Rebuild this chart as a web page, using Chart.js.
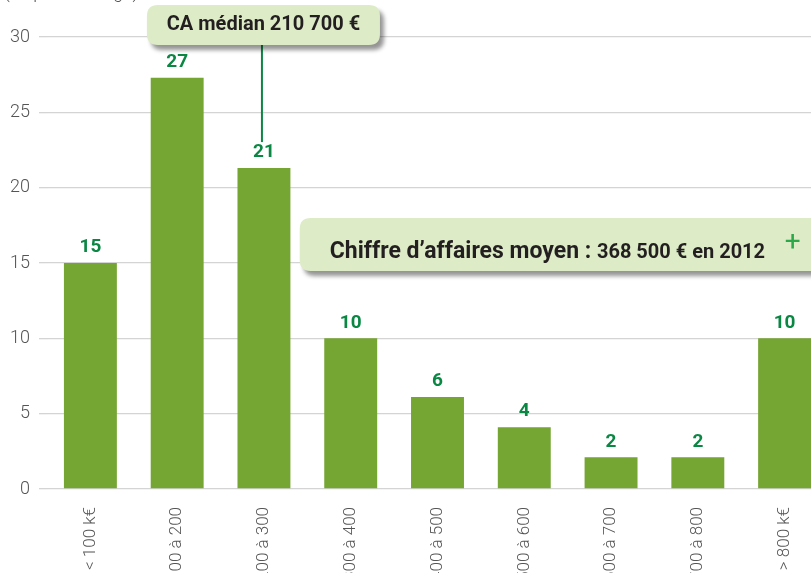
<!DOCTYPE html>
<html lang="fr">
<head>
<meta charset="utf-8">
<title>Chiffre d'affaires</title>
<script src="https://cdn.jsdelivr.net/npm/chart.js@4.4.1/dist/chart.umd.min.js"></script>
<style>
  html, body { margin: 0; padding: 0; background: #fff; overflow: hidden; width: 811px; height: 573px; }
  #wrap { position: absolute; left: 0; top: -20px; width: 828px; height: 620px; }
</style>
</head>
<body>
<div id="wrap"><canvas id="caChart"></canvas></div>
<script>
// data (share of firms, %)
const categories = ['< 100 k€', '100 à 200', '200 à 300', '300 à 400', '400 à 500', '500 à 600', '600 à 700', '700 à 800', '> 800 k€'];
const shares = [15, 27.3, 21.3, 10, 6.1, 4.1, 2.1, 2.1, 10];
const yMin = 0;
const yMax = 30;
const yStep = 5;
const unitLabel = '(en pourcentage)';
const medianText = 'CA médian 210 700 €';
const medianIndex = 2;
const meanLead = 'Chiffre d’affaires moyen :';
const meanValue = '368 500 € en 2012';

const barGreen = '#75a532';
const labelGreen = '#0b8744';
const boxFill = '#ddecc7';
const boldFont = '"Roboto", sans-serif';
const lightFont = '"Roboto", sans-serif';

function roundRect(ctx, x, y, w, h, r) {
    ctx.beginPath();
    ctx.moveTo(x + r, y);
    ctx.lineTo(x + w - r, y);
    ctx.quadraticCurveTo(x + w, y, x + w, y + r);
    ctx.lineTo(x + w, y + h - r);
    ctx.quadraticCurveTo(x + w, y + h, x + w - r, y + h);
    ctx.lineTo(x + r, y + h);
    ctx.quadraticCurveTo(x, y + h, x, y + h - r);
    ctx.lineTo(x, y + r);
    ctx.quadraticCurveTo(x, y, x + r, y);
    ctx.closePath();
}

function shadowBox(ctx, x, y, w, h) {
    ctx.save();
    ctx.shadowColor = 'rgba(0,0,0,0.42)';
    ctx.shadowOffsetX = 4;
    ctx.shadowOffsetY = 5;
    ctx.shadowBlur = 4;
    roundRect(ctx, x, y, w, h, 11);
    ctx.fillStyle = boxFill;
    ctx.fill();
    ctx.restore();
}

// numbers above the bars
const valueLabels = {
    id: 'valueLabels',
    afterDatasetsDraw(chart) {
        const ctx = chart.ctx;
        const meta = chart.getDatasetMeta(0);
        ctx.save();
        ctx.font = 'bold 19px ' + boldFont;
        ctx.fillStyle = labelGreen;
        ctx.textAlign = 'center';
        ctx.textBaseline = 'bottom';
        meta.data.forEach((bar, i) => {
            ctx.fillText(Math.round(shares[i]), bar.x, bar.y - 6);
        });
        ctx.restore();
    }
};

// unit text + the two callout boxes
const callouts = {
    id: 'callouts',
    afterDraw(chart) {
        const ctx = chart.ctx;
        const xs = chart.scales.x;
        const ys = chart.scales.y;
        const bar = chart.getDatasetMeta(0).data[medianIndex];

        ctx.save();
        ctx.font = '300 18px ' + lightFont;
        ctx.fillStyle = '#555';
        ctx.textBaseline = 'middle';
        ctx.fillText(unitLabel, 4, 13);

        // median
        const mx = xs.getPixelForValue(medianIndex) - 2;
        ctx.strokeStyle = labelGreen;
        ctx.lineWidth = 2;
        ctx.beginPath();
        ctx.moveTo(mx, ys.top);
        ctx.lineTo(mx, bar.y - 26);
        ctx.stroke();

        const mw = 233, mh = 40;
        const mTop = ys.top - 32;
        shadowBox(ctx, mx + 1.5 - mw / 2, mTop, mw, mh);
        ctx.fillStyle = '#231f20';
        ctx.font = 'bold 20px ' + boldFont;
        ctx.textAlign = 'center';
        ctx.textBaseline = 'middle';
        ctx.fillText(medianText, mx + 1.5, mTop + mh / 2);

        // mean
        const bx = xs.getPixelForValue(3) - 51;
        const bTop = ys.getPixelForValue(15) - 45;
        const bh = 53;
        shadowBox(ctx, bx, bTop, chart.width - bx + 20, bh);
        ctx.textAlign = 'left';
        ctx.textBaseline = 'alphabetic';
        ctx.fillStyle = '#231f20';
        ctx.font = 'bold 23px ' + boldFont;
        const tx = bx + 30;
        const ty = bTop + 40;
        ctx.fillText(meanLead, tx, ty);
        const w1 = ctx.measureText(meanLead + ' ').width;
        ctx.font = 'bold 20px ' + boldFont;
        ctx.fillText(meanValue, tx + w1, ty);

        ctx.fillStyle = '#2aa84a';
        ctx.font = '28px ' + lightFont;
        ctx.textAlign = 'center';
        ctx.textBaseline = 'middle';
        ctx.fillText('+', bx + 493, bTop + 25);
        ctx.restore();
    }
};

const ctx = document.getElementById('caChart').getContext('2d');
const chart = new Chart(ctx, {
    type: 'bar',
    data: {
        labels: categories,
        datasets: [{
            data: shares,
            backgroundColor: barGreen,
            borderWidth: 0,
            categoryPercentage: 1,
            barPercentage: 0.61
        }]
    },
    options: {
        responsive: true,
        maintainAspectRatio: false,
        animation: false,
        layout: { padding: { top: 57, right: 0, left: 0, bottom: 0 } },
        plugins: {
            legend: { display: false },
            tooltip: { enabled: false },
            title: { display: false }
        },
        scales: {
            x: {
                grid: { display: false },
                border: { display: false },
                ticks: {
                    autoSkip: false,
                    maxRotation: 90,
                    minRotation: 90,
                    padding: 10,
                    color: '#555',
                    font: { family: lightFont, size: 17, weight: '300' }
                },
                afterFit(scale) { scale.height = 111; }
            },
            y: {
                min: yMin,
                max: yMax,
                grid: { color: '#d4d4d4', lineWidth: 1.3, tickLength: 8 },
                border: { display: false },
                ticks: {
                    stepSize: yStep,
                    padding: 9,
                    color: '#555',
                    font: { family: lightFont, size: 18, weight: '300' }
                },
                afterFit(scale) { scale.width = 47; }
            }
        }
    },
    plugins: [valueLabels, callouts]
});
</script>
</body>
</html>
